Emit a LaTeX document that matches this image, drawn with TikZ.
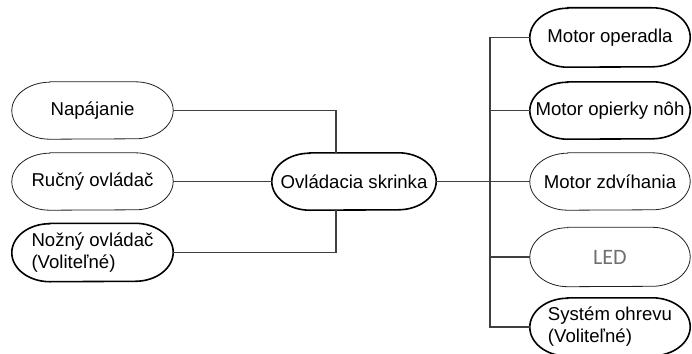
\documentclass[tikz,border=0pt]{standalone}
\usepackage{fontspec}
\setmainfont{Liberation Sans}
\newfontfamily\ledfont{Carlito}
\usetikzlibrary{calc}
\definecolor{linec}{HTML}{404040}
\definecolor{ledc}{HTML}{707070}
\definecolor{thinc}{HTML}{202020}
\newcommand\pilloutline[3][]{%
  \draw[#1] ($(#2.north west)+(38,0)$) -- ($(#2.north east)+(-38,0)$)
    arc[start angle=-90,end angle=90,x radius=38,y radius=#3]
    -- ($(#2.south west)+(38,0)$)
    arc[start angle=90,end angle=270,x radius=38,y radius=#3] -- cycle;}
\begin{document}
\begin{tikzpicture}[x=1pt,y=-1pt,
  pill/.style={rectangle, minimum width=161pt, minimum height=57pt,
    inner sep=0pt, align=center, font=\fontsize{18.6}{22}\selectfont},
  thin/.style={draw=thinc, line width=0.8pt},
  thick/.style={draw=black, line width=1.6pt},
  conn/.style={draw=linec, line width=1.1pt}]
\useasboundingbox (0,0) rectangle (692,353);
\node[pill]  (nap) at (92.5,110.5) {Napájanie};
\node[pill]  (ruc) at (92.5,181.5) {Ručný ovládač};
\node[pill, minimum height=58pt, align=left] (noz) at (92.5,252.5) {Nožný ovládač\\(Voliteľné)};
\node[pill, minimum width=164pt] (ctrl) at (354,181.5) {Ovládacia skrinka};
\node[pill, minimum width=160pt, minimum height=59pt] (m1) at (610,37.5) {Motor operadla};
\node[pill, minimum width=160pt] (m2) at (610,110.5) {Motor opierky nôh};
\node[pill, minimum width=160pt] (m3) at (610,181.5) {Motor zdvíhania};
\node[pill, minimum width=160pt, minimum height=59pt, font=\ledfont\fontsize{22}{24}\selectfont, text=ledc] (led) at (610,257) {LED};
\node[pill, minimum width=160pt, minimum height=58pt, align=left] (sys) at (610,327) {Systém ohrevu\\(Voliteľné)};
\pilloutline[thin]{nap}{28.5}
\pilloutline[thin]{ruc}{28.5}
\pilloutline[thick]{noz}{29}
\pilloutline[thick]{ctrl}{28.5}
\pilloutline[thick]{m1}{29.5}
\pilloutline[thick]{m2}{28.5}
\pilloutline[thin]{m3}{28.5}
\pilloutline[thin]{led}{29.5}
\pilloutline[thick]{sys}{29}
\coordinate (jl) at (336,181.5);
\coordinate (jr) at (490,181.5);
\draw[conn] (nap.east) -| (ctrl.north -| jl);
\draw[conn] (noz.east) -| (ctrl.south -| jl);
\draw[conn] (ruc.east) -- (ctrl.west);
\draw[conn] (ctrl.east) -- (m3.west);
\draw[conn] (m1.west) -| (jr |- sys.west) -- (sys.west);
\draw[conn] (m2.west) -- (m2.west -| jr);
\draw[conn] (led.west) -- (led.west -| jr);
\end{tikzpicture}
\end{document}
